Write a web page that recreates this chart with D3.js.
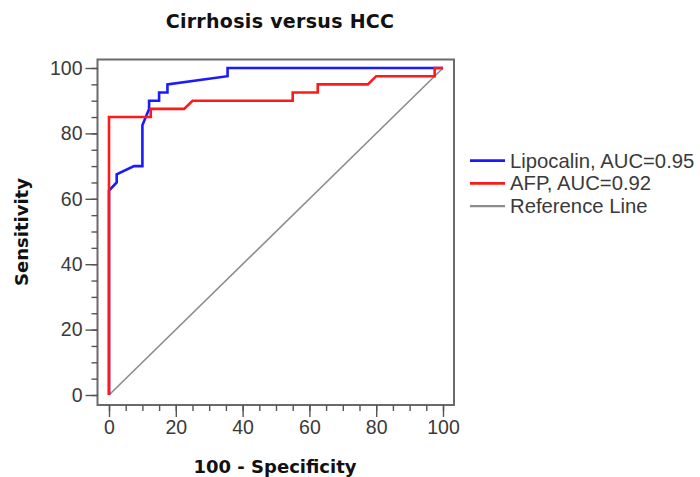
<html>
<head>
<style>
  html, body { margin: 0; padding: 0; background: #fff; }
</style>
</head>
<body>
<div id="chart"></div>
<script src="https://cdn.jsdelivr.net/npm/d3@7"></script>
<script>

// ROC points (100 - specificity, sensitivity)
var lipocalinX = [0, 0, 2.3, 2.3, 7.5, 10, 10, 12, 12, 15, 15, 17.5, 17.5, 35.5, 35.5, 100];
var lipocalinY = [0, 62.5, 65, 67.5, 70, 70, 82.5, 87.5, 90, 90, 92.5, 92.5, 95, 97.5, 100, 100];

var afpX = [0, 0, 12.5, 12.5, 22.5, 25, 55, 55, 62.5, 62.5, 77.5, 80, 97.5, 97.5, 100];
var afpY = [0, 85, 85, 87.5, 87.5, 90, 90, 92.5, 92.5, 95, 95, 97.5, 97.5, 100, 100];

var refX = [0, 100];
var refY = [0, 100];

var legendLabels = ["Lipocalin, AUC=0.95", "AFP, AUC=0.92", "Reference Line"];
var majorTicks = [0, 20, 40, 60, 80, 100];
var minorTicks = d3.range(0, 101, 5);

var width = 700, height = 477;

var svg = d3.select("#chart").append("svg")
  .attr("width", width)
  .attr("height", height)
  .style("font-family", "'Liberation Sans', Arial, sans-serif");

var x = d3.scaleLinear().domain([0, 100]).range([109, 443]);
var y = d3.scaleLinear().domain([0, 100]).range([395, 68]);

var frame = {left: 97.5, top: 59.5, right: 454, bottom: 405};

// frame
svg.append("rect")
  .attr("x", frame.left)
  .attr("y", frame.top)
  .attr("width", frame.right - frame.left)
  .attr("height", frame.bottom - frame.top)
  .attr("fill", "none")
  .attr("stroke", "#6a6a6a")
  .attr("stroke-width", 2);

// axes: minor ticks, then major ticks with labels
function styleAxis(g) {
  g.select(".domain").remove();
  g.selectAll("line").attr("stroke", "#555").attr("stroke-width", 1.4);
  g.selectAll("text")
    .attr("fill", "#3a3a3a")
    .style("font-size", "19.5px")
    .style("font-family", "'Liberation Sans', Arial, sans-serif");
}

svg.append("g")
  .attr("transform", "translate(" + frame.left + ",0)")
  .call(d3.axisLeft(y).tickValues(minorTicks).tickSize(6).tickFormat(""))
  .call(styleAxis);

svg.append("g")
  .attr("transform", "translate(" + frame.left + ",0)")
  .call(d3.axisLeft(y).tickValues(majorTicks).tickSize(12).tickPadding(3))
  .call(styleAxis);

svg.append("g")
  .attr("transform", "translate(0," + frame.bottom + ")")
  .call(d3.axisBottom(x).tickValues(minorTicks).tickSize(6).tickFormat(""))
  .call(styleAxis);

svg.append("g")
  .attr("transform", "translate(0," + frame.bottom + ")")
  .call(d3.axisBottom(x).tickValues(majorTicks).tickSize(12).tickPadding(3))
  .call(styleAxis);

var line = d3.line()
  .x(function(d) { return x(d[0]); })
  .y(function(d) { return y(d[1]); });

function pts(xs, ys) { return xs.map(function(v, i) { return [v, ys[i]]; }); }

var series = [
  {name: legendLabels[0], data: pts(lipocalinX, lipocalinY), color: "#1a1aff", w: 2.6},
  {name: legendLabels[1], data: pts(afpX, afpY), color: "#ff1a1a", w: 2.6},
  {name: legendLabels[2], data: pts(refX, refY), color: "#8c8c8c", w: 1.6}
];

// draw reference first, then lipocalin, then afp on top
[series[2], series[0], series[1]].forEach(function(s) {
  svg.append("path")
    .attr("d", line(s.data))
    .attr("fill", "none")
    .attr("stroke", s.color)
    .attr("stroke-width", s.w)
    .attr("stroke-linejoin", "miter");
});

// legend
var legend = svg.append("g").selectAll("g")
  .data(series)
  .join("g")
    .attr("transform", function(d, i) { return "translate(470," + (160.7 + i * 22.7) + ")"; });

legend.append("line")
  .attr("x1", 0).attr("x2", 35)
  .attr("stroke", function(d) { return d.color; })
  .attr("stroke-width", function(d, i) { return i == 2 ? 2.4 : 2.8; });

legend.append("text")
  .attr("x", 40)
  .attr("y", 6.8)
  .attr("fill", "#3a3a3a")
  .style("font-size", "20.3px")
  .text(function(d) { return d.name; });

// titles
svg.append("text")
  .attr("x", 280)
  .attr("y", 27.5)
  .attr("text-anchor", "middle")
  .style("font", "bold 19px 'DejaVu Sans'")
  .style("letter-spacing", "0.3px")
  .attr("fill", "#111")
  .text("Cirrhosis versus HCC");

svg.append("text")
  .attr("x", 275)
  .attr("y", 473)
  .attr("text-anchor", "middle")
  .style("font", "bold 18px 'DejaVu Sans'")
  .attr("fill", "#111")
  .text("100 - Specificity");

svg.append("text")
  .attr("transform", "translate(28,232) rotate(-90)")
  .attr("text-anchor", "middle")
  .style("font", "bold 18px 'DejaVu Sans'")
  .attr("fill", "#111")
  .text("Sensitivity");

</script>
</body>
</html>
